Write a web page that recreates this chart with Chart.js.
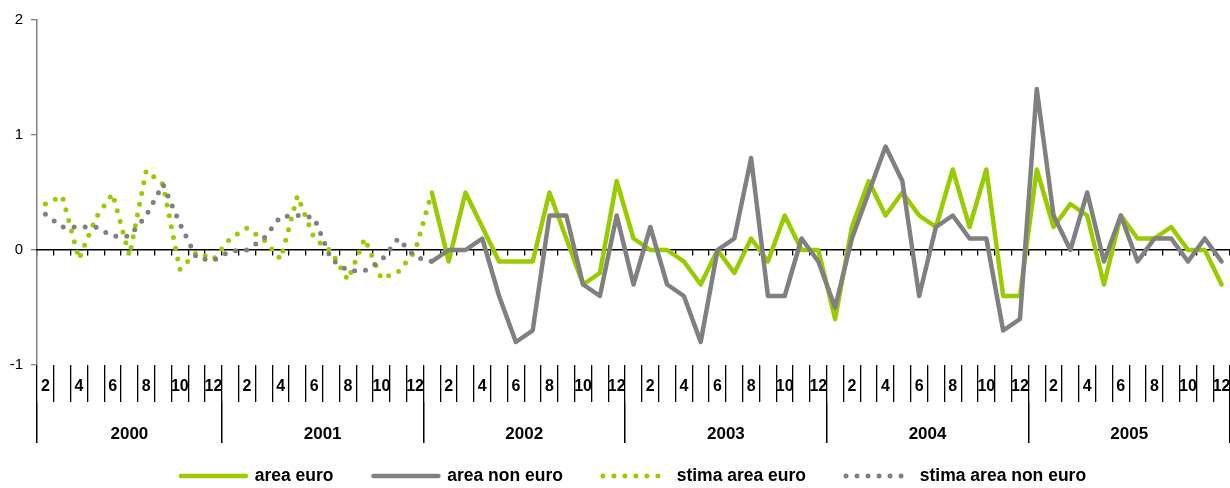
<!DOCTYPE html>
<html>
<head>
<meta charset="utf-8">
<script src="https://cdn.jsdelivr.net/npm/chart.js@4.4.1/dist/chart.umd.min.js"></script>
<style>
  html, body { margin: 0; padding: 0; background: #ffffff; }
  #wrap { position: relative; width: 1230px; height: 488px; }
</style>
</head>
<body>
<div id="wrap"><canvas id="c"></canvas></div>
<script>
// ---- categories ----
const years = ['2000', '2001', '2002', '2003', '2004', '2005'];
const firstMonth = [2, 1, 1, 1, 1, 1];

// ---- series values ----
// monthly values from 2002-01 to 2005-12
const areaEuro = [
  0.5, -0.1, 0.5, 0.2, -0.1, -0.1, -0.1, 0.5, 0.1, -0.3, -0.2, 0.6,
  0.1, 0.0, 0.0, -0.1, -0.3, 0.0, -0.2, 0.1, -0.1, 0.3, 0.0, 0.0,
  -0.6, 0.2, 0.6, 0.3, 0.5, 0.3, 0.2, 0.7, 0.2, 0.7, -0.4, -0.4,
  0.7, 0.2, 0.4, 0.3, -0.3, 0.3, 0.1, 0.1, 0.2, 0.0, 0.0, -0.3
];
const areaNonEuro = [
  -0.1, 0.0, 0.0, 0.1, -0.4, -0.8, -0.7, 0.3, 0.3, -0.3, -0.4, 0.3,
  -0.3, 0.2, -0.3, -0.4, -0.8, 0.0, 0.1, 0.8, -0.4, -0.4, 0.1, -0.1,
  -0.5, 0.1, 0.5, 0.9, 0.6, -0.4, 0.2, 0.3, 0.1, 0.1, -0.7, -0.6,
  1.4, 0.3, 0.0, 0.5, -0.1, 0.3, -0.1, 0.1, 0.1, -0.1, 0.1, -0.1
];
const solidStart = '2002-01';

// estimates from 2000-02 to 2002-01
const stimaAreaEuro = [
  0.40, 0.47, -0.08, 0.28, 0.49, -0.05, 0.69, 0.57, -0.17, -0.02, -0.08,
  0.10, 0.19, 0.09, -0.08, 0.47, 0.10, -0.01, -0.26, 0.10, -0.25, -0.19, -0.01,
  0.50
];
const stimaAreaNonEuro = [
  0.31, 0.20, 0.20, 0.20, 0.12, 0.12, 0.30, 0.57, 0.23, -0.07, -0.09,
  -0.01, 0.00, 0.10, 0.29, 0.30, 0.28, -0.08, -0.18, -0.18, -0.09, 0.10, -0.06,
  -0.10
];

const seriesNames = ['area euro', 'area non euro', 'stima area euro', 'stima area non euro'];
const yTicks = [-1, 0, 1, 2];

// ---- derived tables ----
const categories = [];
const categoryYear = [];
years.forEach((y, k) => {
  for (let m = firstMonth[k]; m <= 12; m++) {
    categories.push(y + '-' + String(m).padStart(2, '0'));
    categoryYear.push(y);
  }
});
const monthTickLabels = categories.map(c => {
  const m = parseInt(c.slice(5), 10);
  return m % 2 === 0 ? String(m) : '';
});
const solidIdx = categories.indexOf(solidStart);
const solidData = arr => categories.map((c, i) => (i >= solidIdx ? arr[i - solidIdx] : null));
const stimaData = arr => categories.map((c, i) => (i < arr.length ? arr[i] : null));

// year boundaries and centres in category-index units
const yearBounds = [];
const yearCentres = {};
years.forEach(y => {
  const first = categoryYear.indexOf(y);
  const last = categoryYear.lastIndexOf(y);
  if (yearBounds.length === 0) yearBounds.push(first - 0.5);
  yearBounds.push(last + 0.5);
  yearCentres[(first + last) / 2] = y;
});
const yearTickValues = yearBounds.concat(Object.keys(yearCentres).map(Number)).sort((a, b) => a - b);

const GREEN = '#99CC00';
const GREY = '#808080';
const FONT = "'Liberation Sans', Arial, sans-serif";
Chart.defaults.font.family = FONT;
Chart.defaults.color = '#000';

new Chart(document.getElementById('c'), {
  type: 'line',
  data: {
    labels: categories,
    datasets: [
      { label: seriesNames[0], data: solidData(areaEuro), borderColor: GREEN, backgroundColor: GREEN,
        borderWidth: 4.5, pointRadius: 0, borderJoinStyle: 'round', borderCapStyle: 'round', order: 2, xAxisID: 'x', yAxisID: 'y' },
      { label: seriesNames[1], data: solidData(areaNonEuro), borderColor: GREY, backgroundColor: GREY,
        borderWidth: 4.5, pointRadius: 0, borderJoinStyle: 'round', borderCapStyle: 'round', order: 1, xAxisID: 'x', yAxisID: 'y' },
      { label: seriesNames[2], data: stimaData(stimaAreaEuro), borderColor: GREEN, backgroundColor: GREEN,
        borderWidth: 5, pointRadius: 0, borderDash: [0, 11], borderCapStyle: 'round', order: 4, xAxisID: 'x', yAxisID: 'y' },
      { label: seriesNames[3], data: stimaData(stimaAreaNonEuro), borderColor: GREY, backgroundColor: GREY,
        borderWidth: 5, pointRadius: 0, borderDash: [0, 11], borderCapStyle: 'round', order: 3, xAxisID: 'x', yAxisID: 'y' }
    ]
  },
  options: {
    responsive: true,
    maintainAspectRatio: false,
    animation: false,
    events: [],
    layout: { padding: { top: 20, left: 0, right: 0, bottom: -6.75 } },
    scales: {
      y: {
        type: 'linear', position: 'left', min: -1, max: 2,
        afterBuildTicks: s => { s.ticks = yTicks.map(v => ({ value: v })); },
        afterFit: s => { s.width = 37; },
        ticks: { font: { size: 15 }, color: '#000', padding: 8 },
        grid: { drawOnChartArea: false, drawTicks: true, tickLength: 6, color: GREY, lineWidth: 1.3 },
        border: { display: true, color: GREY, width: 1.5 }
      },
      x: {
        type: 'category', position: 'bottom', offset: true,
        afterFit: s => { s.height = 37; },
        ticks: {
          autoSkip: false, maxRotation: 0, minRotation: 0, padding: -24.6,
          font: { size: 16, weight: 'bold' }, color: '#000',
          callback: (v, i) => monthTickLabels[i]
        },
        grid: { offset: true, drawOnChartArea: false, drawTicks: true, tickLength: 37, color: '#000', lineWidth: 1.3 },
        border: { display: false }
      },
      x2: {
        type: 'linear', position: 'bottom', min: -0.5, max: 70.5,
        afterBuildTicks: s => { s.ticks = yearTickValues.map(v => ({ value: v })); },
        afterFit: s => { s.height = 25.25; },
        ticks: {
          autoSkip: false, maxRotation: 0, minRotation: 0, mirror: true, padding: -42.2,
          font: { size: 17, weight: 'bold' }, color: '#000',
          callback: v => (yearCentres[v] !== undefined ? yearCentres[v] : '')
        },
        grid: {
          drawOnChartArea: false, drawTicks: true, tickLength: 41, lineWidth: 1.5,
          color: c => (c.tick && yearBounds.includes(c.tick.value) ? '#000' : 'rgba(0,0,0,0)')
        },
        border: { display: false }
      },
      x0: {
        type: 'category', position: { y: 0 }, offset: true, z: 1,
        ticks: { display: false },
        grid: { offset: true, drawOnChartArea: false, drawTicks: true, tickLength: 5, color: '#000', lineWidth: 1.3 },
        border: { display: true, color: '#000', width: 1.5 }
      }
    },
    plugins: {
      tooltip: { enabled: false },
      legend: {
        position: 'bottom',
        fullSize: false,
        labels: {
          usePointStyle: true, pointStyle: 'line', pointStyleWidth: 65, padding: 40,
          font: { size: 17.5, weight: 'bold' }, color: '#000',
          generateLabels: chart => {
            const items = Chart.defaults.plugins.legend.labels.generateLabels(chart);
            items.forEach(it => {
              const ds = chart.data.datasets[it.datasetIndex];
              it.lineWidth = ds.borderWidth;
              it.lineDash = ds.borderDash || [];
              it.lineCap = ds.borderCapStyle || 'butt';
              it.strokeStyle = ds.borderColor;
              it.fillStyle = ds.borderColor;
              it.pointStyle = 'line';
            });
            return items.sort((a, b) => a.datasetIndex - b.datasetIndex);
          }
        }
      }
    }
  }
});
</script>
</body>
</html>
